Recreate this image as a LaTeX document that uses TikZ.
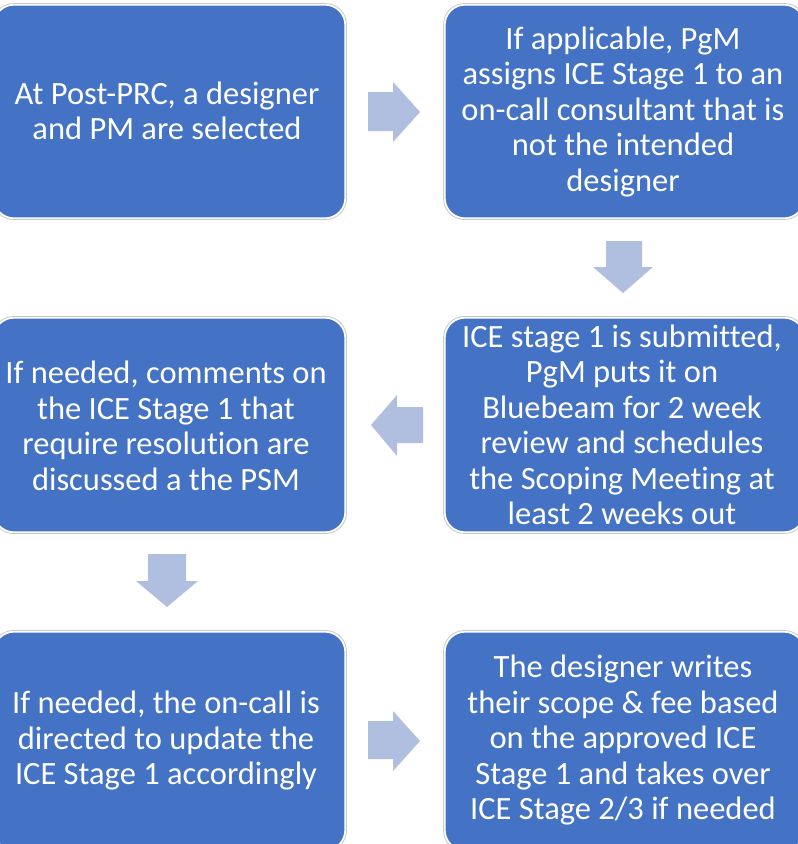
\documentclass[tikz,border=0pt]{standalone}
\usepackage{fontspec}
\setmainfont{Carlito}[Ligatures={NoCommon}]
\definecolor{boxblue}{RGB}{68,114,196}
\definecolor{arrowblue}{RGB}{176,190,224}
\definecolor{edgegray}{RGB}{200,200,200}
\tikzset{
  stepbox/.style={fill=boxblue, rounded corners=20pt, draw=white, line width=1.2pt},
  boxedge/.style={draw=edgegray, rounded corners=21pt, line width=0.8pt},
  steptext/.style={text=white, align=center, font=\fontsize{32.5}{35.5}\selectfont, inner sep=0pt},
  blockarrow/.style={fill=arrowblue, draw=none}
}
\begin{document}
\begin{tikzpicture}[x=1pt,y=-1pt]
\useasboundingbox (0,0) rectangle (798,844);
\fill[white] (0,0) rectangle (798,844);
% boxes
\foreach \xa/\ya/\xb/\yb in {-6/5/345/218, 445/5/804/218, -6/318/345/532, 445/318/804/532, -6/632/345/850, 445/632/804/850}{
  \draw[boxedge] (\xa-1.5,\ya-1.5) rectangle (\xb+1.5,\yb+1.5);
  \path[stepbox] (\xa,\ya) rectangle (\xb,\yb);
}
\node[steptext] (b1) at (167,111) {At Post-PRC, a designer\\and PM are selected};
\node[steptext] (b2) at (623,112) {If applicable, PgM\\assigns ICE Stage 1 to an\\on-call consultant that is\\not the intended\\designer};
\node[steptext] (b3) at (166,426) {If needed, comments on\\the ICE Stage 1 that\\require resolution are\\discussed a the PSM};
\node[steptext] (b4) at (622,425) {ICE stage 1 is submitted,\\PgM puts it on\\Bluebeam for 2 week\\review and schedules\\the Scoping Meeting at\\least 2 weeks out};
\node[steptext] (b5) at (166,741) {If needed, the on-call is\\directed to update the\\ICE Stage 1 accordingly};
\node[steptext] (b6) at (623,740) {The designer writes\\their scope \& fee based\\on the approved ICE\\Stage 1 and takes over\\ICE Stage 2/3 if needed};
% block arrows
\path[blockarrow] (368,92) -- (393,92) -- (393,82) -- (420,112) -- (393,142) -- (393,131) -- (368,131) -- cycle;
\path[blockarrow] (606,241) -- (642,241) -- (642,267) -- (653,267) -- (623,293) -- (593,267) -- (606,267) -- cycle;
\path[blockarrow] (423,407) -- (397,407) -- (397,395) -- (371,425) -- (397,456) -- (397,443) -- (423,443) -- cycle;
\path[blockarrow] (148,554) -- (186,554) -- (186,581) -- (198,581) -- (167,607) -- (136,581) -- (148,581) -- cycle;
\path[blockarrow] (368,721) -- (393,721) -- (393,711) -- (420,741) -- (393,771) -- (393,759) -- (368,759) -- cycle;
\end{tikzpicture}
\end{document}
